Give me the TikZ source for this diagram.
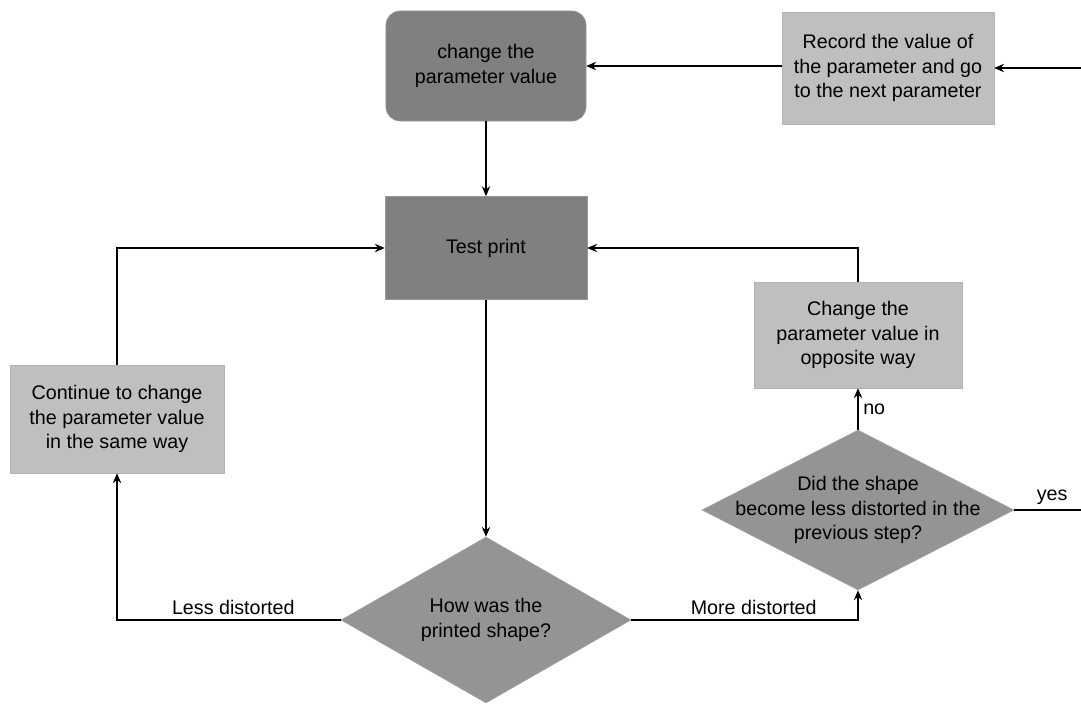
\documentclass[tikz,border=0pt]{standalone}
\usepackage{fontspec}
\setmainfont{Liberation Sans}
\usetikzlibrary{shapes.geometric,arrows.meta}

\begin{document}
\begin{tikzpicture}[
			x=0.025cm, y=-0.025cm,
			font=\fontsize{14}{17.5}\selectfont,
			darkbox/.style={rectangle, fill=black!50, draw=black!40, align=center, inner sep=2pt},
			lightbox/.style={rectangle, fill=black!25, draw=black!30, align=center, inner sep=2pt},
			decision/.style={diamond, fill=black!42, draw=black!35, inner sep=0pt},
			arrow/.style={-{Stealth[length=7pt,width=6pt]}, thick}
		]
		\clip (0,0) rectangle (1081,705);

		\node[darkbox, rounded corners=10pt, minimum width=5cm, minimum height=2.75cm] (change) at (486,66) {change the\\parameter value};
		\node[lightbox, minimum width=5.3cm, minimum height=2.8cm] (record) at (888,68) {Record the value of\\the parameter and go\\to the next parameter};
		\node[darkbox, minimum width=5.05cm, minimum height=2.58cm] (test) at (486,248) {Test print};
		\node[lightbox, minimum width=5.35cm, minimum height=2.7cm] (cont) at (117,419) {Continue to change\\the parameter value\\in the same way};
		\node[lightbox, minimum width=5.2cm, minimum height=2.65cm] (opp) at (858,335) {Change the\\parameter value in\\opposite way};

		\node[decision, minimum width=7.25cm, minimum height=4.15cm] (how) at (486,620) {};
		\node[align=center] (howtext) at (how) {How was the\\printed shape?};
		\node[decision, minimum width=7.8cm, minimum height=4cm] (did) at (858,510) {};
		\node[align=center] (didtext) at (did) {Did the shape\\become less distorted in the\\previous step?};

		\coordinate (edge) at (1090,0);

		\draw[arrow] (change.south) -- (test.north);
		\draw[arrow] (test.south) -- (how.north);
		\draw[arrow] (record.west |- change.east) -- (change.east);
		\draw[arrow] (how.west) -| node[pos=0.24, above] {Less distorted} (cont.south);
		\draw[arrow] (cont.north) |- (test.west);
		\draw[arrow] (how.east) -| node[pos=0.27, above] {More distorted} (did.south);
		\draw[arrow] (did.north) -- node[right] {no} (opp.south);
		\draw[arrow] (opp.north) |- (test.east);
		\draw[arrow] (did.east) -- node[above] {yes} (did.east -| edge) |- (record.east);
	\end{tikzpicture}
\end{document}
